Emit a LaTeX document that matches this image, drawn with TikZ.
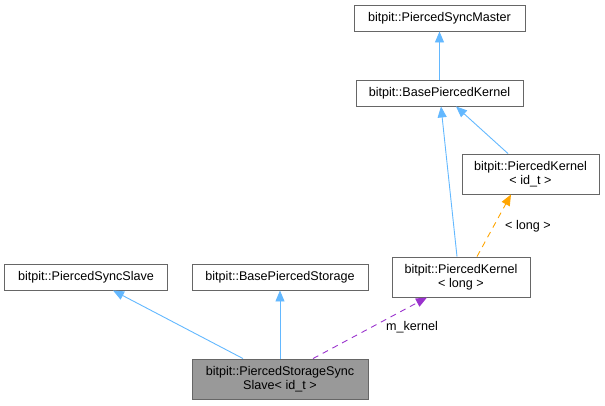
\documentclass[tikz,border=0pt]{standalone}
\usepackage{fontspec}
\setmainfont{Liberation Sans}
\usetikzlibrary{arrows.meta}
\definecolor{edgeblue}{HTML}{63B8FF}
\definecolor{edgeorange}{HTML}{FFA500}
\definecolor{edgepurple}{HTML}{9A32CD}
\definecolor{boxborder}{HTML}{666666}
\definecolor{mainfill}{HTML}{999999}
\begin{document}
\begin{tikzpicture}[x=1pt,y=-1pt,
  box/.style={draw=boxborder, line width=0.9pt, fill=white, inner sep=0pt, align=center,
    font=\fontsize{12.6}{14}\selectfont},
  inherit/.style={draw=edgeblue, line width=0.9pt, -{Triangle[length=11pt,width=9pt]}},
  templ/.style={draw=edgeorange, line width=0.9pt, dash pattern=on 6pt off 5pt, -{Triangle[length=11pt,width=9pt]}},
  usage/.style={draw=edgepurple, line width=0.9pt, dash pattern=on 6pt off 5pt, -{Triangle[length=11pt,width=9pt]}},
  lbl/.style={font=\fontsize{12.6}{14}\selectfont, inner sep=1pt}
]
\useasboundingbox (0,0) rectangle (605,405);
\node[box, minimum width=171pt, minimum height=26pt] (master) at (439.5,18) {bitpit::PiercedSyncMaster};
\node[box, minimum width=167pt, minimum height=26pt] (bkernel) at (439.5,93) {bitpit::BasePiercedKernel};
\node[box, minimum width=137pt, minimum height=40pt] (kid) at (530.5,174) {bitpit::PiercedKernel\\< id\_t >};
\node[box, minimum width=138pt, minimum height=40pt] (klong) at (461,277) {bitpit::PiercedKernel\\< long >};
\node[box, minimum width=163pt, minimum height=26pt] (slave) at (86,277) {bitpit::PiercedSyncSlave};
\node[box, minimum width=176pt, minimum height=26pt] (bstorage) at (280,277) {bitpit::BasePiercedStorage};
\node[box, fill=mainfill, minimum width=176pt, minimum height=40pt] (main) at (280,379) {bitpit::PiercedStorageSync\\Slave< id\_t >};

\draw[inherit] (bkernel.north) -- (master.south);
\draw[inherit] (klong.north -| 457,0) -- (bkernel.south -| 441,0);
\draw[inherit] (kid.north -| 508,0) -- (bkernel.south -| 456,0);
\draw[templ] (klong.north -| 477,0) -- (kid.south -| 511,0);
\node[lbl] (lbllong) at (528,226) {< long >};
\draw[inherit] (main.north -| 243,0) -- (slave.south -| 113,0);
\draw[inherit] (main.north) -- (bstorage.south);
\draw[usage] (main.north -| 313,0) -- (klong.south -| 427,0);
\node[lbl] (lblkernel) at (412,327) {m\_kernel};
\end{tikzpicture}
\end{document}
